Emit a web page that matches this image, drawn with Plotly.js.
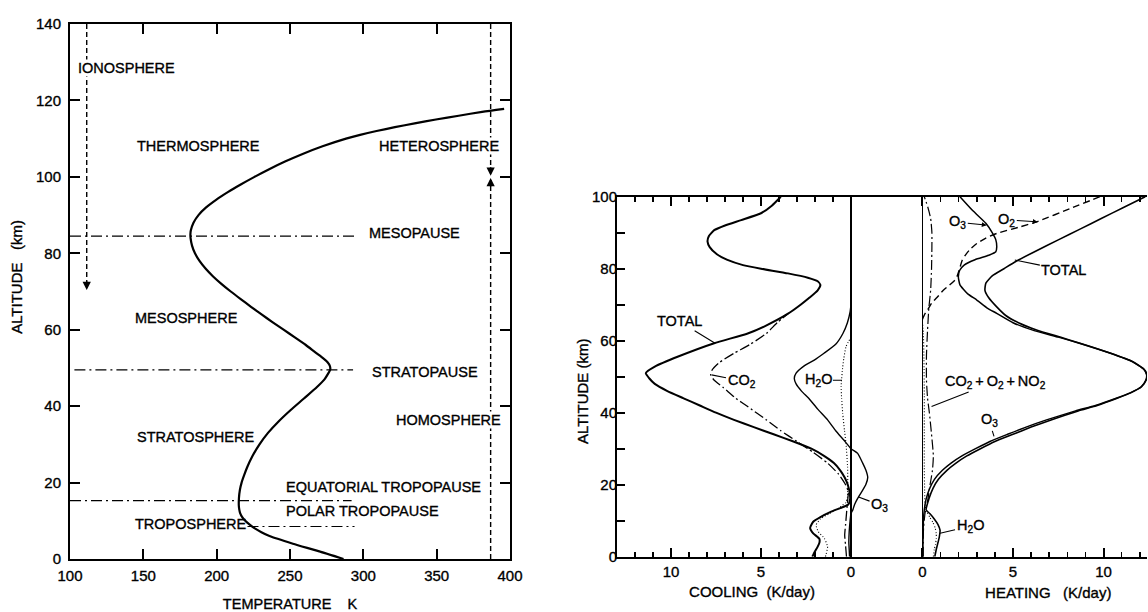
<!DOCTYPE html>
<html>
<head>
<meta charset="utf-8">
<script src="https://cdn.plot.ly/plotly-3.0.1.min.js"></script>
<style>
  html, body { margin: 0; padding: 0; background: #fff; overflow: hidden; }
  #chart { width: 1148px; height: 612px; }
  #chart text { stroke: #000; stroke-width: 0.35px; }
</style>
</head>
<body>
<div id="chart"></div>
<script>
// ---------------- Left panel: temperature profile ----------------
const tempAlt = [0, 2, 4, 6, 7, 8, 9, 10, 11, 12, 13, 14, 16, 18, 20, 22, 24, 27, 30, 33, 36, 39, 42, 45, 47, 48.5, 49.5, 50.5, 51.5, 52.5, 54, 56, 58, 60, 62, 64, 66, 68, 70, 72, 74, 76, 78, 80, 82, 84, 85, 86, 88, 90, 92, 94, 96, 98, 100, 102, 104, 106, 108, 110, 111, 112, 113, 114, 115, 116, 117, 117.8];
const tempK   = [286.5, 270, 252, 236, 230.5, 226, 222.5, 219.5, 217.3, 216, 215.4, 215.1, 215.2, 215.8, 217, 218.8, 220.8, 224.5, 229.2, 235, 242.2, 250.5, 259.5, 268.4, 273.5, 276, 277.4, 277.2, 275.6, 272.7, 267.5, 260.8, 253.3, 245.6, 238, 230.6, 223.4, 216.4, 209.6, 203.2, 197.4, 192.4, 188.3, 185.2, 183.2, 182.2, 182.1, 182.4, 184.2, 187.6, 192.8, 199.6, 207.6, 216.4, 225.8, 235.8, 246.6, 258.6, 272.2, 288.2, 297.8, 309, 321.5, 335, 349.5, 365, 381, 396];

// Layer boundaries (dash-dot): altitude (km) and temperature extent (K)
const boundaryAlt    = [84.5, 49.5, 15.3, 8.5];
const boundaryFromK  = [100, 103, 100, 221];
const boundaryToK    = [294, 293, 292, 294];

// Vertical dashed dividers (K) and their altitude spans (km)
const ionosphereK = 111.4;
const ionosphereSpan = [140, 71];
const heteroK = 386.8;
const heteroSpan = [140, 100.8];
const homoSpan = [0, 99.2];

// ---------------- Right panel: cooling rates (K/day) ----------------
const coolTotalAlt = [0, 1.5, 2.8, 4, 5, 6.5, 8, 9.7, 11, 12.5, 13.5, 14.5, 16, 18, 20, 22, 24, 26, 28, 30, 32, 34, 36, 38, 40, 42, 44, 46, 48, 49.5, 51, 52.8, 55.6, 59.3, 62, 64, 67.5, 70, 72, 74, 75.5, 76.5, 77.5, 78.7, 80, 81, 82.5, 84, 86, 87.5, 89, 90.7, 92, 93.5, 95.4, 97.5, 100];
const coolTotal    = [2.15, 2.0, 1.85, 1.75, 1.76, 2.1, 2.27, 2.1, 1.7, 1.1, 0.6, 0.15, 0.05, 0.08, 0.18, 0.35, 0.6, 0.95, 1.5, 2.2, 3.2, 4.3, 5.4, 6.5, 7.5, 8.4, 9.3, 10.2, 10.9, 11.2, 11.4, 10.9, 9.6, 7.6, 5.74, 4.8, 3.5, 2.8, 2.3, 1.85, 1.7, 1.85, 2.4, 3.5, 5.0, 6.0, 6.9, 7.45, 7.85, 7.97, 7.9, 7.6, 7.0, 6.1, 5.0, 4.4, 3.9];

const coolCO2Alt = [0, 3, 6, 9, 12, 15, 18, 20, 23, 26, 29, 32, 35, 38, 41.7, 44, 47, 49, 50.5, 52, 54, 56.5, 59, 62, 65, 67.5];
const coolCO2    = [0.25, 0.3, 0.35, 0.3, 0.25, 0.2, 0.15, 0.3, 0.7, 1.3, 2.1, 3.0, 3.9, 4.7, 5.74, 6.4, 7.1, 7.6, 7.8, 7.7, 7.3, 6.5, 5.6, 4.7, 4.1, 3.5];

const coolH2OAlt = [0, 0.5, 2.8, 5.1, 6.9, 8.8, 10.5, 12, 13.5, 15, 16.7, 20, 25, 31.5, 35, 39.8, 44, 47.2, 52.8, 55, 58.3, 61];
const coolH2O    = [1.42, 1.39, 1.3, 1.48, 1.81, 1.94, 1.7, 1.2, 0.7, 0.3, 0.19, 0.18, 0.19, 0.28, 0.36, 0.46, 0.52, 0.55, 0.46, 0.4, 0.28, 0.0];

const coolO3Alt = [0, 2, 4, 7, 10, 12, 13, 14.5, 16.2, 18.5, 20, 22, 24, 26, 28.7, 30, 32.4, 35, 38, 41, 44, 46, 48, 49.5, 51, 53, 54.6, 56.5, 59, 62, 65, 68, 70];
const coolO3    = [0.08, 0.1, 0.12, 0.1, 0.05, 0.0, -0.1, -0.2, -0.37, -0.65, -0.82, -0.93, -0.83, -0.65, -0.37, 0.0, 0.4, 0.85, 1.3, 1.85, 2.35, 2.75, 3.05, 3.15, 3.05, 2.6, 2.04, 1.5, 0.85, 0.45, 0.2, 0.05, 0.0];

// ---------------- Right panel: heating rates (K/day) ----------------
const heatTotalAlt = [0, 2, 4, 5.5, 7.4, 9, 10.5, 12, 13, 16, 19, 21.5, 24, 26, 28, 30, 32, 34, 36, 38, 40.5, 42, 44, 45.5, 47.2, 49, 50.5, 52, 54.2, 56.5, 59.3, 61, 63, 65, 67, 69.4, 72, 74, 76, 78, 80, 82, 85, 88, 91, 94, 97, 100];
const heatTotal    = [0.68, 0.76, 0.86, 0.93, 0.97, 0.85, 0.65, 0.4, 0.2, 0.35, 0.58, 0.88, 1.35, 1.85, 2.45, 3.2, 4.0, 5.0, 6.0, 7.1, 8.6, 9.65, 10.75, 11.5, 12.1, 12.35, 12.4, 12.25, 11.6, 10.4, 8.7, 7.6, 6.3, 5.3, 4.6, 4.1, 3.65, 3.45, 3.5, 3.85, 4.5, 5.15, 6.3, 7.5, 8.7, 9.9, 11.1, 12.3];

const heatO3Alt = [0, 5, 10, 13, 16, 19, 21.5, 24, 26, 28, 30, 32, 34, 36, 38, 40.5, 42, 44, 45.5, 47.2, 49, 50.5, 52, 54.2, 56.5, 59.3, 61, 63, 65, 67.6, 69, 71.3, 73, 75.5, 77.8, 79.5, 81, 82.5, 83.8, 84.7, 86, 88, 90, 92.6, 96, 100];
const heatO3    = [0.02, 0.03, 0.05, 0.1, 0.2, 0.4, 0.66, 1.1, 1.58, 2.18, 2.93, 3.72, 4.7, 5.72, 6.85, 8.45, 9.55, 10.7, 11.47, 12.08, 12.33, 12.38, 12.23, 11.58, 10.38, 8.66, 7.5, 6.05, 5.0, 4.1, 3.6, 3.0, 2.5, 2.07, 1.98, 2.05, 2.3, 2.9, 3.7, 4.05, 4.1, 4.05, 3.85, 3.5, 2.8, 2.07];

const heatO2Alt = [66, 67.5, 68.5, 70.4, 72, 74, 75.5, 76.9, 78, 80, 82.4, 84, 85.5, 87, 88.5, 89.8, 91.5, 93, 97, 100];
const heatO2    = [0.0, 0.14, 0.28, 0.5, 0.8, 1.15, 1.5, 1.8, 1.92, 2.05, 2.2, 2.4, 2.65, 3.0, 3.5, 4.1, 5.3, 6.3, 8.3, 9.8];

const heatOtherAlt = [0, 4, 8, 12, 16, 20, 24, 28, 34, 40, 44, 49, 56, 63, 69, 74, 80, 86, 90, 94, 97, 100];
const heatOther    = [0.04, 0.04, 0.06, 0.14, 0.3, 0.42, 0.55, 0.6, 0.5, 0.38, 0.28, 0.22, 0.22, 0.28, 0.35, 0.45, 0.5, 0.52, 0.52, 0.45, 0.3, 0.1];

const heatH2OAlt = [0, 2, 3.5, 5, 6.5, 8, 9.5, 11, 12.5, 14, 18, 25, 35, 45, 55, 62, 65];
const heatH2O    = [0.6, 0.65, 0.72, 0.76, 0.76, 0.7, 0.58, 0.4, 0.25, 0.15, 0.12, 0.1, 0.1, 0.1, 0.08, 0.05, 0.0];

// ---------------- Build traces ----------------
const K = 'black';
const W = 1148, H = 612;
const px = v => v / W;
const py = v => (H - v) / H;
const NB = n => '\u00A0'.repeat(n);
const ZW = '\u200B';

const traces = [];
traces.push({x: tempK, y: tempAlt, xaxis: 'x', yaxis: 'y', mode: 'lines',
  line: {color: K, width: 2.2, shape: 'spline', smoothing: 0.6}, hoverinfo: 'skip'});

boundaryAlt.forEach((a, i) => {
  traces.push({x: [boundaryFromK[i], boundaryToK[i]], y: [a, a], xaxis: 'x', yaxis: 'y', mode: 'lines',
    line: {color: K, width: 1.2, dash: '11px,4px,2px,4px'}, hoverinfo: 'skip'});
});
traces.push({x: [ionosphereK, ionosphereK], y: ionosphereSpan, xaxis: 'x', yaxis: 'y', mode: 'lines',
  line: {color: K, width: 1.4, dash: '5px,3px'}, hoverinfo: 'skip'});
traces.push({x: [heteroK, heteroK], y: heteroSpan, xaxis: 'x', yaxis: 'y', mode: 'lines',
  line: {color: K, width: 1.4, dash: '5px,3px'}, hoverinfo: 'skip'});
traces.push({x: [heteroK, heteroK], y: homoSpan, xaxis: 'x', yaxis: 'y', mode: 'lines',
  line: {color: K, width: 1.4, dash: '5px,3px'}, hoverinfo: 'skip'});

const sp = {shape: 'spline', smoothing: 0.5};
traces.push({x: coolTotal, y: coolTotalAlt, xaxis: 'x2', yaxis: 'y2', mode: 'lines', line: Object.assign({color: K, width: 2}, sp), hoverinfo: 'skip'});
traces.push({x: coolCO2, y: coolCO2Alt, xaxis: 'x2', yaxis: 'y2', mode: 'lines', line: Object.assign({color: K, width: 1.3, dash: '10px,3px,2px,3px'}, sp), hoverinfo: 'skip'});
traces.push({x: coolH2O, y: coolH2OAlt, xaxis: 'x2', yaxis: 'y2', mode: 'lines', line: Object.assign({color: K, width: 1.1, dash: '1px,2px'}, sp), hoverinfo: 'skip'});
traces.push({x: coolO3, y: coolO3Alt, xaxis: 'x2', yaxis: 'y2', mode: 'lines', line: Object.assign({color: K, width: 1.4}, sp), hoverinfo: 'skip'});

traces.push({x: heatTotal, y: heatTotalAlt, xaxis: 'x3', yaxis: 'y3', mode: 'lines', line: Object.assign({color: K, width: 1.6}, sp), hoverinfo: 'skip'});
traces.push({x: heatO3, y: heatO3Alt, xaxis: 'x3', yaxis: 'y3', mode: 'lines', line: Object.assign({color: K, width: 1.5}, sp), hoverinfo: 'skip'});
traces.push({x: heatO2, y: heatO2Alt, xaxis: 'x3', yaxis: 'y3', mode: 'lines', line: Object.assign({color: K, width: 1.4, dash: '7px,4px'}, sp), hoverinfo: 'skip'});
traces.push({x: heatOther, y: heatOtherAlt, xaxis: 'x3', yaxis: 'y3', mode: 'lines', line: Object.assign({color: K, width: 1.2, dash: '10px,3px,2px,3px'}, sp), hoverinfo: 'skip'});
traces.push({x: heatH2O, y: heatH2OAlt, xaxis: 'x3', yaxis: 'y3', mode: 'lines', line: Object.assign({color: K, width: 1.1, dash: '1px,2px'}, sp), hoverinfo: 'skip'});

// ---------------- Layout ----------------
const FONT = '"Liberation Sans", Arial, sans-serif';
const tf = {family: FONT, size: 15, color: K};
const titleFont = {family: FONT, size: 15, color: K};
const baseAxis = {showline: true, linecolor: K, linewidth: 2, ticks: 'inside', tickcolor: K,
  tickwidth: 2, showgrid: false, zeroline: false, tickfont: tf, fixedrange: true};

const range0to = (a, b, s) => { const r = []; for (let v = a; v <= b + 1e-9; v += s) r.push(v); return r; };

const layout = {
  width: W, height: H, margin: {l: 0, r: 0, t: 0, b: 0},
  paper_bgcolor: 'white', plot_bgcolor: 'rgba(0,0,0,0)', showlegend: false,
  font: {family: FONT, size: 14.5, color: K},
  xaxis: Object.assign({}, baseAxis, {domain: [px(70), px(510)], range: [100, 400], anchor: 'y',
    tickvals: range0to(100, 400, 50), ticklen: 10, mirror: 'ticks', ticklabelstandoff: 2,
    title: {text: 'TEMPERATURE' + NB(4) + 'K', font: {family: FONT, size: 14.5, color: K}, standoff: 17}}),
  yaxis: Object.assign({}, baseAxis, {domain: [py(559), py(24)], range: [0, 140], anchor: 'x',
    tickvals: range0to(0, 140, 20), ticklen: 10, mirror: 'ticks', ticklabelstandoff: 4,
    title: {text: ZW + NB(7) + 'ALTITUDE' + NB(3) + '(km)', font: titleFont, standoff: 10}}),
  xaxis2: Object.assign({}, baseAxis, {domain: [px(617), px(887)], range: [13, -2], anchor: 'y2',
    tickvals: [0, 5, 10], ticktext: ['0', '5', '10'], ticklen: 9, mirror: 'ticks',
    minor: {tickvals: range0to(0, 13, 1), ticklen: 5, tickwidth: 1.5, tickcolor: K, ticks: 'inside'},
    zeroline: true, zerolinecolor: K, zerolinewidth: 1.6,
    title: {text: 'COOLING' + NB(2) + '(K/day)', font: titleFont, standoff: 8}}),
  xaxis3: Object.assign({}, baseAxis, {domain: [px(887), px(1147)], range: [-1.96, 12.4], anchor: 'y3',
    tickvals: [0, 5, 10], ticktext: ['0', '5', '10'], ticklen: 9, mirror: 'ticks',
    minor: {tickvals: range0to(0, 12, 1), ticklen: 5, tickwidth: 1.5, tickcolor: K, ticks: 'inside'},
    zeroline: true, zerolinecolor: K, zerolinewidth: 1.6,
    title: {text: ZW + NB(15) + 'HEATING' + NB(3) + '(K/day)', font: titleFont, standoff: 9}}),
  yaxis2: Object.assign({}, baseAxis, {domain: [py(556.7), py(196.7)], range: [0, 100], anchor: 'x2',
    tickvals: range0to(0, 100, 20), ticklen: 8, ticklabelstandoff: -5,
    minor: {tickvals: range0to(10, 90, 20), ticklen: 8, tickwidth: 2, tickcolor: K, ticks: 'inside'},
    title: {text: 'ALTITUDE\u00A0(km)' + NB(7) + ZW, font: titleFont, standoff: 0}}),
  yaxis3: Object.assign({}, baseAxis, {domain: [py(556.7), py(196.7)], range: [0, 100], anchor: 'x3',
    side: 'right', showline: false, ticks: '', showticklabels: false}),
  annotations: []
};

const A = layout.annotations;
const lab = (text, x, y, xref, yref, extra) => A.push(Object.assign({text, x, y, xref, yref,
  showarrow: false, xanchor: 'left', yanchor: 'middle', font: {family: FONT, size: 14.5, color: K}}, extra || {}));

// Left panel region names
lab('IONOSPHERE', 104.5, 128.4, 'x', 'y', {bgcolor: 'white', borderpad: 0});
lab('THERMOSPHERE', 144.3, 108.2, 'x', 'y');
lab('HETEROSPHERE', 310, 108.2, 'x', 'y', {bgcolor: 'white', borderpad: 0});
lab('MESOPAUSE', 302.5, 85.3, 'x', 'y');
lab('MESOSPHERE', 143, 63, 'x', 'y');
lab('STRATOPAUSE', 304.5, 49, 'x', 'y');
lab('HOMOSPHERE', 321.6, 36.4, 'x', 'y', {bgcolor: 'white', borderpad: 0});
lab('STRATOSPHERE', 144.3, 32, 'x', 'y');
lab('EQUATORIAL TROPOPAUSE', 245.9, 18.9, 'x', 'y');
lab('POLAR TROPOPAUSE', 245.9, 12.6, 'x', 'y');
lab('TROPOSPHERE', 143, 9.1, 'x', 'y');

// Arrowheads on the dashed dividers
const head = (x, y, ay) => A.push({x, y, xref: 'x', yref: 'y', text: '', showarrow: true,
  ax: 0, ay, arrowhead: 2, arrowsize: 1.1, arrowwidth: 1.5, arrowcolor: K});
head(ionosphereK, ionosphereSpan[1] - 0.6, -10);
head(heteroK, heteroSpan[1] - 0.5, -10);
head(heteroK, homoSpan[1] + 0.5, 10);

// Leader-line labels on the right panel
const lead = (text, x, y, xref, yref, ax, ay, arrowhead) => A.push({text, x, y, xref, yref,
  showarrow: true, ax, ay, arrowhead: arrowhead || 0, arrowsize: 0.9, arrowwidth: 1.1, arrowcolor: K,
  font: {family: FONT, size: 14.5, color: K}, borderpad: 1});
const TS = '\u2009';
lead('TOTAL', 7.55, 59.3, 'x2', 'y2', -36, -22);
lead('CO<sub>2</sub>', 7.75, 50.5, 'x2', 'y2', 30, 6);
lead('H<sub>2</sub>O', 0.5, 49, 'x2', 'y2', -24, 0);
lead('O<sub>3</sub>', -0.42, 16.6, 'x2', 'y2', 21, 8);
lead('O<sub>3</sub>', 3.55, 92.1, 'x3', 'y3', -29, -3, 2);
lead('O<sub>2</sub>', 6.37, 93, 'x3', 'y3', -31, -2, 2);
lead('TOTAL', 5.1, 82.4, 'x3', 'y3', 49, 10);
lead('CO<sub>2</sub>' + TS + '+' + TS + 'O<sub>2</sub>' + TS + '+' + TS + 'NO<sub>2</sub>', 0.5, 41.7, 'x3', 'y3', 64, -25);
lead('O<sub>3</sub>', 3.95, 33.4, 'x3', 'y3', -5, -16);
lead('H<sub>2</sub>O', 0.97, 6.5, 'x3', 'y3', 30, -7);

Plotly.newPlot('chart', traces, layout, {staticPlot: true, displayModeBar: false});
</script>
</body>
</html>
